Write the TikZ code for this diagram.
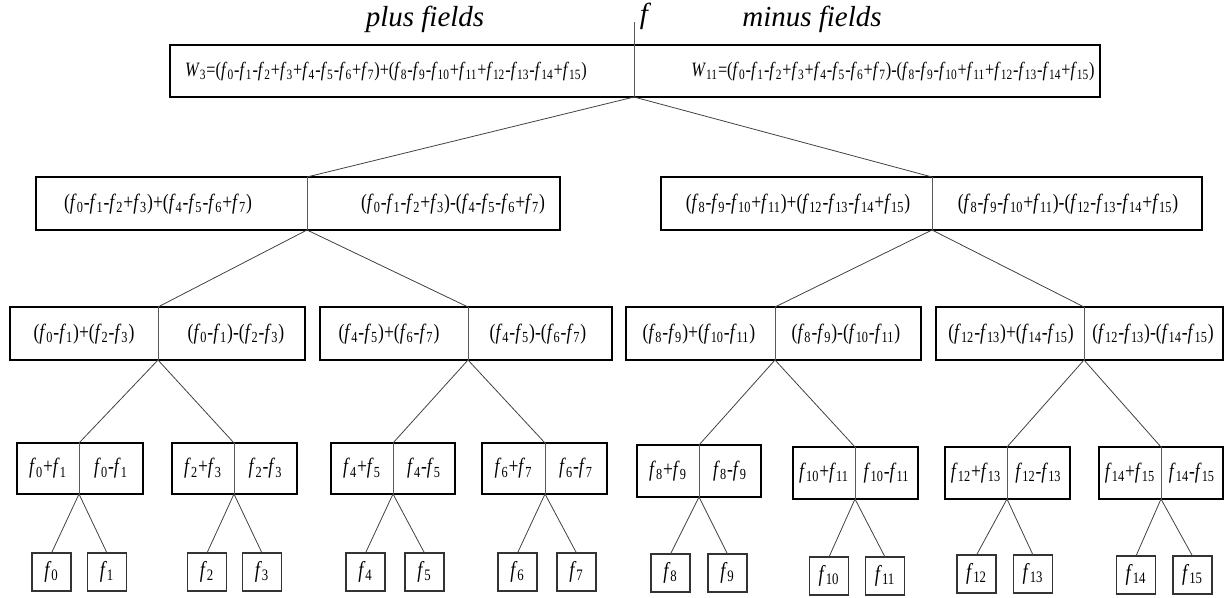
\documentclass[tikz,border=0pt]{standalone}
\usepackage{fontspec}
\setmainfont{Liberation Serif}
\newfontfamily\condfont{Liberation Serif}[FakeStretch=0.8]
\newcommand\F[1]{\textit{f}\textsubscript{#1}}
\tikzset{
  half/.style={inner sep=0pt, outer sep=0pt},
  frame/.style={draw=black, line width=0.8pt},
  divider/.style={draw=black!65, line width=0.5pt},
  link/.style={draw=black!75, line width=0.45pt},
  lbl/.style={inner sep=0pt, font=\fontsize{12.5}{14}\condfont},
  wlbl/.style={inner sep=0pt, font=\fontsize{11.6}{14}\condfont},
  head/.style={inner sep=0pt, font=\fontsize{16.5}{19}\selectfont\itshape},
  leaf/.style={draw=black!80, line width=0.6pt, inner sep=0pt, outer sep=0pt,
    font=\fontsize{13}{14}\condfont, minimum width=0.78cm, minimum height=0.76cm}
}
% name, x1, xm, x2, y1, y2
\newcommand\splitbx[6]{%
  \node[half, minimum width={(#3-#2)*0.02cm}, minimum height={(#6-#5)*0.02cm}] (#1l) at ({(#2+#3)/2},{(#5+#6)/2}) {};
  \node[half, minimum width={(#4-#3)*0.02cm}, minimum height={(#6-#5)*0.02cm}] (#1r) at ({(#3+#4)/2},{(#5+#6)/2}) {};
  \draw[frame] (#1l.north west) rectangle (#1r.south east);
  \draw[divider] (#1l.north east) -- (#1l.south east);
}
\begin{document}
\begin{tikzpicture}[x=0.02cm,y=-0.02cm]
\useasboundingbox (0,0) rectangle (1225,598);

% headings
\node[head] (hplus) at (425,19) {plus fields};
\node[head] (hf) at (644,16) {f};
\node[head] (hminus) at (812,19) {minus fields};

% level 0
\splitbx{r0}{170}{634}{1100}{45}{97}
\coordinate (ftop) at (634,22);
\draw[divider] (ftop) -- (r0l.south east);
\node[wlbl] (t0l) at (386,71) {\textit{W}\textsubscript{3}=(\F0-\F1-\F2+\F3+\F4-\F5-\F6+\F7)+(\F8-\F9-\F{10}+\F{11}+\F{12}-\F{13}-\F{14}+\F{15})};
\node[wlbl] (t0r) at (893,71) {\textit{W}\textsubscript{11}=(\F0-\F1-\F2+\F3+\F4-\F5-\F6+\F7)-(\F8-\F9-\F{10}+\F{11}+\F{12}-\F{13}-\F{14}+\F{15})};

% level 1
\splitbx{ra}{36}{307}{560}{177}{230}
\splitbx{rb}{661}{932}{1202}{177}{230}
\node[lbl] (tal) at (158,204) {(\F0-\F1-\F2+\F3)+(\F4-\F5-\F6+\F7)};
\node[lbl] (tar) at (453,204) {(\F0-\F1-\F2+\F3)-(\F4-\F5-\F6+\F7)};
\node[lbl] (tbl) at (798,204) {(\F8-\F9-\F{10}+\F{11})+(\F{12}-\F{13}-\F{14}+\F{15})};
\node[lbl] (tbr) at (1068,204) {(\F8-\F9-\F{10}+\F{11})-(\F{12}-\F{13}-\F{14}+\F{15})};

% level 2
\splitbx{s1}{10}{158}{305}{307}{360}
\splitbx{s2}{320}{468}{612}{307}{360}
\splitbx{s3}{626}{775}{921}{307}{360}
\splitbx{s4}{936}{1084}{1223}{307}{360}
\node[lbl] (u1l) at (84,334) {(\F0-\F1)+(\F2-\F3)};
\node[lbl] (u1r) at (236,334) {(\F0-\F1)-(\F2-\F3)};
\node[lbl] (u2l) at (389,334) {(\F4-\F5)+(\F6-\F7)};
\node[lbl] (u2r) at (538,334) {(\F4-\F5)-(\F6-\F7)};
\node[lbl] (u3l) at (699,334) {(\F8-\F9)+(\F{10}-\F{11})};
\node[lbl] (u3r) at (846,334) {(\F8-\F9)-(\F{10}-\F{11})};
\node[lbl] (u4l) at (1011,334) {(\F{12}-\F{13})+(\F{14}-\F{15})};
\node[lbl] (u4r) at (1153,334) {(\F{12}-\F{13})-(\F{14}-\F{15})};

% level 3
\splitbx{c1}{17}{79}{143}{443}{494}
\splitbx{c2}{172}{234}{297}{443}{494}
\splitbx{c3}{331}{393}{455}{443}{494}
\splitbx{c4}{482}{545}{607}{443}{494}
\splitbx{c5}{637}{699}{761}{445}{497}
\splitbx{c6}{793}{855}{918}{447}{499}
\splitbx{c7}{945}{1007}{1070}{447}{499}
\splitbx{c8}{1099}{1161}{1223}{447}{499}
\node[lbl] (v1l) at (c1l) {\F0+\F1};
\node[lbl] (v1r) at (c1r) {\F0-\F1};
\node[lbl] (v2l) at (c2l) {\F2+\F3};
\node[lbl] (v2r) at (c2r) {\F2-\F3};
\node[lbl] (v3l) at (c3l) {\F4+\F5};
\node[lbl] (v3r) at (c3r) {\F4-\F5};
\node[lbl] (v4l) at (c4l) {\F6+\F7};
\node[lbl] (v4r) at (c4r) {\F6-\F7};
\node[lbl] (v5l) at (c5l) {\F8+\F9};
\node[lbl] (v5r) at (c5r) {\F8-\F9};
\node[lbl] (v6l) at (c6l) {\F{10}+\F{11}};
\node[lbl] (v6r) at (c6r) {\F{10}-\F{11}};
\node[lbl] (v7l) at (c7l) {\F{12}+\F{13}};
\node[lbl] (v7r) at (c7r) {\F{12}-\F{13}};
\node[lbl] (v8l) at (c8l) {\F{14}+\F{15}};
\node[lbl] (v8r) at (c8r) {\F{14}-\F{15}};

% leaves
\node[leaf] (f0) at (51.5,572) {\F0};
\node[leaf] (f1) at (107,572) {\F1};
\node[leaf] (f2) at (207,572) {\F2};
\node[leaf] (f3) at (262,572) {\F3};
\node[leaf] (f4) at (365.5,572) {\F4};
\node[leaf] (f5) at (424.5,572) {\F5};
\node[leaf] (f6) at (517.5,572) {\F6};
\node[leaf] (f7) at (576.5,572) {\F7};
\node[leaf] (f8) at (670.5,573) {\F8};
\node[leaf] (f9) at (727.5,573) {\F9};
\node[leaf] (f10) at (829,576) {\F{10}};
\node[leaf] (f11) at (885,576) {\F{11}};
\node[leaf] (f12) at (976.5,574) {\F{12}};
\node[leaf] (f13) at (1033,574) {\F{13}};
\node[leaf] (f14) at (1136,575) {\F{14}};
\node[leaf] (f15) at (1192.5,575) {\F{15}};

% connectors
\draw[link] (r0l.south east) -- (ral.north east);
\draw[link] (r0l.south east) -- (rbl.north east);
\draw[link] (ral.south east) -- (s1l.north east);
\draw[link] (ral.south east) -- (s2l.north east);
\draw[link] (rbl.south east) -- (s3l.north east);
\draw[link] (rbl.south east) -- (s4l.north east);
\draw[link] (s1l.south east) -- (c1l.north east);
\draw[link] (s1l.south east) -- (c2l.north east);
\draw[link] (s2l.south east) -- (c3l.north east);
\draw[link] (s2l.south east) -- (c4l.north east);
\draw[link] (s3l.south east) -- (c5l.north east);
\draw[link] (s3l.south east) -- (c6l.north east);
\draw[link] (s4l.south east) -- (c7l.north east);
\draw[link] (s4l.south east) -- (c8l.north east);
\draw[link] (c1l.south east) -- (f0.north);
\draw[link] (c1l.south east) -- (f1.north);
\draw[link] (c2l.south east) -- (f2.north);
\draw[link] (c2l.south east) -- (f3.north);
\draw[link] (c3l.south east) -- (f4.north);
\draw[link] (c3l.south east) -- (f5.north);
\draw[link] (c4l.south east) -- (f6.north);
\draw[link] (c4l.south east) -- (f7.north);
\draw[link] (c5l.south east) -- (f8.north);
\draw[link] (c5l.south east) -- (f9.north);
\draw[link] (c6l.south east) -- (f10.north);
\draw[link] (c6l.south east) -- (f11.north);
\draw[link] (c7l.south east) -- (f12.north);
\draw[link] (c7l.south east) -- (f13.north);
\draw[link] (c8l.south east) -- (f14.north);
\draw[link] (c8l.south east) -- (f15.north);
\end{tikzpicture}
\end{document}
